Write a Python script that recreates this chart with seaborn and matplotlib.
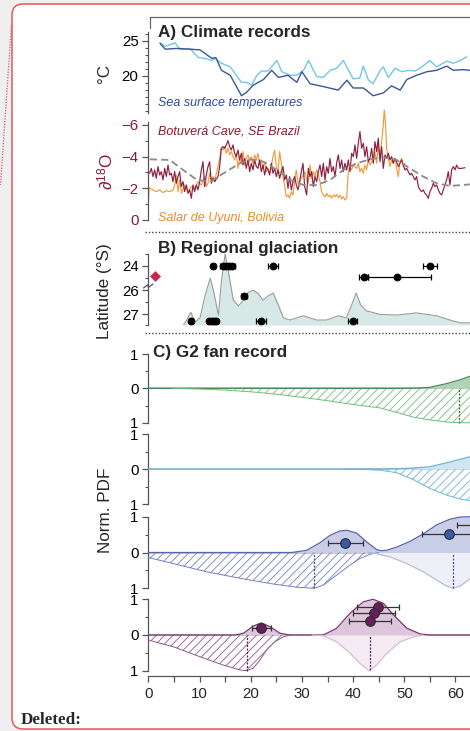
import numpy as np
import matplotlib
matplotlib.use("Agg")
import matplotlib.pyplot as plt
import seaborn as sns
from matplotlib.patches import FancyBboxPatch
from matplotlib.lines import Line2D
from matplotlib.transforms import IdentityTransform

# ------------------------------------------------------------------ data
# Panel A: sea surface temperatures (age ka, deg C)
sst_dark_age = [2.3, 3.3, 5.5, 8.1, 10.1, 12.4, 13.2, 14.3, 16.0, 18.2, 19.2, 20.5, 22.5, 24.1, 25.4,
                27.3, 29.0, 30.0, 31.6, 34.2, 37.1, 38.8, 40.0, 42.0, 43.9, 45.9, 47.5, 49.2, 50.5,
                52.4, 54.4, 56.3, 58.3, 59.6, 61.5, 62.8]
sst_dark = [24.6, 23.8, 23.9, 23.8, 23.7, 22.5, 22.6, 20.8, 20.1, 17.2, 17.7, 18.7, 19.5, 20.8, 19.8,
            20.1, 19.1, 20.6, 18.9, 18.5, 18.0, 19.4, 18.3, 18.3, 17.2, 17.6, 18.6, 18.0, 19.5,
            20.1, 20.6, 20.8, 21.4, 20.8, 20.9, 20.8]
sst_light_age = [2.3, 3.3, 5.2, 6.2, 8.1, 9.8, 11.1, 12.4, 13.0, 14.3, 16.0, 18.2, 19.2, 20.2, 21.2,
                 22.1, 23.4, 25.1, 26.1, 27.7, 29.0, 30.3, 31.3, 32.9, 34.2, 35.5, 36.8, 38.1, 40.0,
                 41.3, 42.0, 43.0, 43.9, 45.3, 45.9, 46.9, 48.2, 49.5, 50.8, 52.1, 53.1, 55.0, 56.3,
                 58.3, 59.6, 60.9, 62.2]
sst_light = [24.7, 24.2, 24.7, 23.8, 23.9, 22.6, 22.5, 22.2, 22.5, 21.8, 21.3, 19.1, 19.1, 18.7, 20.1,
             20.7, 20.7, 22.2, 20.6, 20.1, 20.1, 20.8, 22.2, 19.9, 19.8, 20.8, 21.1, 22.2, 19.6,
             19.7, 21.4, 19.4, 18.9, 20.8, 21.3, 19.8, 21.1, 20.6, 20.8, 20.7, 21.1, 22.2, 21.3,
             22.1, 21.8, 22.2, 22.7]

# Panel A: Botuvera cave d18O (age ka, permil)
botuvera = [(0.27, -2.95), (0.59, -3.26), (0.92, -2.74), (1.24, -3.16), (1.57, -2.63), (1.89, -3.37),
            (2.22, -2.84), (2.54, -3.05), (2.87, -2.53), (3.2, -3.26), (3.52, -2.74), (3.85, -3.47),
            (4.17, -2.84), (4.5, -2.95), (4.82, -2.42), (5.15, -3.05), (5.47, -2.32), (5.8, -2.74),
            (6.12, -3.05), (6.45, -2.11), (6.78, -2.42), (7.1, -1.79), (7.43, -2.21), (7.75, -1.68),
            (8.08, -1.9), (8.4, -1.37), (8.73, -2.21), (9.05, -1.79), (9.38, -2.21), (9.71, -1.9),
            (10.03, -2.42), (10.36, -3.16), (10.68, -3.68), (11.01, -2.11), (11.33, -2.84),
            (11.66, -3.37), (11.98, -3.68), (12.31, -2.32), (12.63, -2.63), (12.96, -2.42),
            (13.61, -2.74), (13.94, -3.37), (14.26, -4.53), (14.59, -4.63), (14.91, -4.53),
            (15.24, -4.74), (15.56, -5.01), (15.89, -4.63), (16.22, -4.42), (16.54, -4.74),
            (16.87, -4.21), (17.19, -4.0), (17.52, -4.42), (17.84, -3.79), (18.17, -4.21),
            (18.49, -3.47), (18.82, -3.89), (19.14, -3.26), (19.47, -3.79), (19.8, -3.05),
            (20.12, -3.58), (20.45, -3.16), (20.77, -3.79), (21.1, -3.37), (21.42, -3.26),
            (21.75, -3.79), (22.07, -3.05), (22.4, -3.47), (22.73, -2.84), (23.05, -3.37),
            (23.38, -3.16), (23.7, -2.84), (24.03, -3.58), (24.35, -2.95), (24.68, -3.26),
            (25.0, -2.74), (25.33, -3.16), (25.65, -2.63), (25.98, -3.05), (26.31, -3.37),
            (26.63, -2.53), (26.96, -2.84), (27.28, -2.0), (27.61, -2.74), (27.93, -1.9),
            (28.26, -2.42), (28.58, -2.74), (28.91, -2.21), (29.24, -1.9), (29.56, -2.42),
            (29.89, -3.05), (30.21, -3.58), (30.54, -2.11), (30.93, -1.58), (31.25, -3.26),
            (31.58, -2.74), (31.9, -3.05), (32.23, -2.11), (32.55, -2.74), (32.88, -2.42),
            (33.2, -3.05), (33.53, -3.47), (33.86, -2.74), (34.18, -3.58), (34.51, -2.53),
            (34.83, -3.37), (35.16, -2.95), (35.48, -3.89), (35.81, -3.05), (36.13, -3.37),
            (36.46, -2.74), (36.78, -3.58), (37.11, -4.11), (37.44, -3.26), (37.76, -3.79),
            (38.09, -3.05), (38.41, -3.58), (38.74, -3.16), (39.06, -3.79), (39.39, -3.05),
            (39.71, -4.21), (40.04, -4.0), (40.37, -4.74), (40.69, -3.89), (41.02, -4.84),
            (41.34, -5.58), (41.67, -4.53), (41.99, -4.84), (42.32, -4.0), (42.64, -4.63),
            (42.97, -3.68), (43.3, -3.89), (43.62, -4.53), (43.95, -3.58), (44.27, -4.95),
            (44.6, -4.32), (44.92, -5.16), (45.25, -3.68), (45.57, -4.63), (45.9, -3.26),
            (46.23, -4.11), (46.55, -3.89), (46.88, -4.21), (47.2, -3.79), (47.53, -4.0),
            (47.85, -3.58), (48.18, -3.89), (48.5, -3.68), (48.83, -3.37), (49.15, -3.58),
            (49.48, -3.79), (49.81, -3.47), (50.13, -3.16), (50.46, -3.26), (50.78, -3.05),
            (51.11, -2.84), (51.43, -2.95), (51.76, -2.74), (52.08, -2.53), (52.41, -2.74),
            (52.74, -2.11), (53.06, -1.9), (53.39, -1.79), (53.71, -1.9), (54.04, -1.68),
            (54.36, -1.58), (54.69, -1.37), (55.01, -1.79), (55.34, -2.0), (55.66, -2.32),
            (55.99, -2.11), (56.32, -2.21), (56.64, -1.9), (56.97, -1.68), (57.29, -1.58),
            (57.62, -1.9), (57.94, -2.21), (58.27, -2.53), (58.59, -3.05), (58.92, -2.21),
            (59.24, -3.16), (59.57, -3.37), (59.9, -3.16), (60.22, -3.47), (60.55, -3.26),
            (61.2, -3.26), (61.85, -3.3)]

# Panel A: Salar de Uyuni d18O
uyuni = [(0.05, -1.3), (0.15, -2.05), (0.27, -2.0), (0.92, -1.9), (1.57, -1.79), (2.22, -1.9),
         (2.87, -1.73), (3.52, -1.85), (4.17, -1.79), (4.82, -1.9), (5.15, -2.21), (5.47, -2.84),
         (5.8, -1.79), (6.12, -2.53), (6.45, -1.68), (7.1, -2.21), (7.75, -1.79), (8.4, -2.11),
         (9.05, -2.0), (9.71, -2.42), (10.36, -2.21), (11.01, -2.74), (11.33, -2.11), (11.66, -2.32),
         (11.98, -2.95), (12.31, -2.53), (12.63, -2.74), (12.96, -2.42), (13.29, -2.95),
         (13.61, -3.37), (13.94, -3.89), (14.26, -4.53), (14.59, -4.42), (14.91, -4.63),
         (15.24, -4.21), (15.56, -4.53), (15.89, -4.11), (16.22, -4.32), (16.54, -4.0),
         (16.87, -3.79), (17.19, -4.21), (17.52, -3.26), (17.84, -3.89), (18.17, -3.58),
         (18.49, -4.32), (18.82, -3.47), (19.14, -3.89), (19.47, -4.11), (19.8, -3.68),
         (20.12, -4.0), (20.45, -3.58), (20.77, -4.11), (21.1, -3.79), (21.42, -4.21),
         (21.75, -3.47), (22.07, -3.79), (22.4, -3.26), (22.73, -3.68), (23.05, -3.05),
         (23.38, -3.26), (23.7, -2.95), (24.03, -3.37), (24.35, -4.0), (24.68, -4.42),
         (25.0, -3.37), (25.33, -2.95), (25.65, -4.32), (25.98, -3.58), (26.31, -2.74),
         (26.63, -2.11), (26.96, -1.47), (27.28, -1.58), (27.61, -1.37), (27.93, -1.79),
         (28.26, -1.58), (28.58, -2.53), (28.91, -3.16), (29.24, -2.32), (29.56, -2.42),
         (30.6, -3.05), (30.93, -2.53), (31.25, -2.32), (31.58, -3.47), (31.9, -2.63),
         (32.23, -3.05), (32.55, -2.74), (32.88, -3.16), (33.2, -2.84), (33.53, -2.42),
         (33.86, -1.79), (34.18, -1.58), (34.51, -1.47), (34.83, -1.68), (35.16, -1.47),
         (35.48, -1.58), (35.81, -1.37), (36.13, -1.58), (36.46, -1.47), (36.78, -1.62),
         (37.11, -1.41), (37.44, -1.58), (37.76, -1.33), (38.09, -1.47), (38.41, -1.26),
         (38.74, -1.37), (39.06, -3.05), (39.39, -3.37), (39.71, -3.16), (40.04, -3.47),
         (40.37, -3.37), (40.69, -3.26), (41.02, -3.58), (41.34, -3.05), (41.67, -3.26),
         (41.99, -2.95), (42.32, -3.47), (42.64, -3.16), (42.97, -3.79), (43.3, -3.47),
         (43.62, -3.68), (43.95, -3.89), (44.27, -4.32), (44.6, -3.58), (44.92, -4.74),
         (45.25, -3.89), (45.57, -4.95), (45.9, -6.0), (46.09, -6.95), (46.36, -6.0),
         (46.55, -4.53), (46.88, -3.89), (47.2, -3.37), (47.53, -3.79), (47.85, -3.58),
         (48.18, -3.89), (48.5, -3.26), (48.83, -2.74), (49.15, -3.68), (49.48, -3.89),
         (49.81, -3.37), (50.13, -3.58)]

# Panel A: insolation-like reference curve (dashed)
insol_age = [0.3, 4.2, 6.8, 9.5, 12.1, 14.7, 17.9, 19.9, 22.5, 25.1, 27.7, 30.3, 32.9, 35.5, 38.1,
             40.7, 43.3, 45.9, 48.5, 51.1, 53.7, 56.3, 58.9, 61.5, 62.8]
insol = [-3.83, -3.79, -3.16, -2.53, -2.42, -2.95, -3.58, -3.83, -3.68, -3.16, -2.53, -2.21, -2.21,
         -2.53, -3.16, -3.58, -3.83, -3.96, -3.79, -3.26, -2.74, -2.32, -2.15, -2.21, -2.25]

# Panel B: glacial ages by latitude (age ka, latitude S, age error)
glac_age = [12.7, 14.6, 15.2, 15.8, 16.4, 24.3, 55.0, 42.1, 18.7, 8.3, 11.9, 12.4, 12.9, 13.3, 22.0, 39.9]
glac_lat = [24.0, 24.0, 24.0, 24.0, 24.0, 24.0, 24.0, 24.9, 26.25, 27.29, 27.29, 27.29, 27.29, 27.29, 27.29, 27.29]
glac_err = [0.3, 0.5, 0.5, 0.5, 0.5, 1.0, 1.4, 0.9, 0.5, 0.4, 0.4, 0.4, 0.4, 0.4, 1.0, 0.8]
glac_wide_age = [48.5]
glac_wide_lat = [24.9]
glac_wide_err_lo = [5.5]
glac_wide_err_hi = [6.8]
diamond_age = [1.3]
diamond_lat = [24.85]
# Panel B: summed probability curve (age ka, relative density)
kde_age = [6.85, 7.5, 8.3, 9.1, 10.1, 11.1, 12.1, 12.8, 13.7, 14.3, 15.0, 15.6, 16.6, 17.6, 18.6,
           19.5, 20.5, 21.5, 22.4, 23.4, 24.4, 25.4, 26.4, 27.7, 30.3, 32.9, 34.8, 37.1, 38.7,
           39.7, 40.6, 41.5, 42.6, 45.2, 48.5, 52.4, 56.3, 58.9, 60.9, 62.8]
kde_val = [0.0, 0.07, 0.18, 0.04, 0.10, 0.42, 0.66, 0.46, 0.14, 0.63, 1.0, 0.77, 0.35, 0.27, 0.35,
           0.46, 0.49, 0.44, 0.35, 0.41, 0.45, 0.28, 0.10, 0.07, 0.13, 0.07, 0.07, 0.13, 0.10,
           0.28, 0.45, 0.28, 0.20, 0.15, 0.14, 0.17, 0.13, 0.07, 0.03, 0.03]

# Panel C: G2 fan record sub-panels (upper PDF, lower hatched, lower light)
c1_top = [(0, 0), (50, 0), (53, 0.01), (55, 0.03), (58.3, 0.14), (60.9, 0.25), (62.8, 0.35)]
c1_hat = [(4.8, 0), (10, -0.02), (15, -0.05), (20, -0.1), (25, -0.17), (30, -0.26), (35, -0.36),
          (40, -0.47), (45.3, -0.57), (48.5, -0.70), (51.8, -0.84), (55, -0.92), (58.3, -0.98),
          (60.7, -1.0), (62.8, -1.0)]
c1_dash = [60.7]

c2_top = [(0, 0), (40, 0), (48, 0.01), (51.5, 0.03), (55, 0.07), (58.3, 0.18), (60.9, 0.28), (62.8, 0.35)]
c2_hat = [(38.5, 0), (42, -0.01), (45.3, -0.03), (48.5, -0.1), (51.8, -0.3), (55, -0.55),
          (58.3, -0.74), (60.9, -0.85), (62.8, -0.9)]

c3_top = [(0, 0), (28, 0), (30.9, 0.06), (33.5, 0.27), (35.5, 0.48), (37.4, 0.6), (38.8, 0.62),
          (40.7, 0.54), (42.7, 0.29), (44.6, 0.08), (45.5, 0.05), (46.5, 0.06), (48.5, 0.15),
          (51.1, 0.31), (53.7, 0.52), (56.3, 0.77), (58.9, 0.93), (60.9, 0.99), (62.8, 1.0)]
c3_hat = [(0, -0.14), (4.9, -0.31), (11.4, -0.54), (17.9, -0.72), (24.4, -0.88), (29.0, -0.97),
          (32.4, -1.0), (34.2, -0.91), (36.8, -0.63), (39.4, -0.35), (41.3, -0.17), (43.3, -0.05),
          (45, 0)]
c3_light = [(43, 0), (44, -0.02), (47.2, -0.12), (50.5, -0.31), (53.7, -0.54), (56.3, -0.77),
            (58.3, -0.94), (59.5, -1.0), (60.9, -0.94), (62.2, -0.8), (62.8, -0.74)]
c3_dash = [32.4, 59.5]
c3_pt_age = [38.5, 58.7, 64.5]
c3_pt_val = [0.27, 0.51, 0.76]
c3_pt_err = [3.5, 5.2, 4.3]

c4_top = [(0, 0), (17, 0), (18.6, 0.05), (20.5, 0.25), (22.1, 0.34), (23.8, 0.23), (25.7, 0.05),
          (27.7, 0), (34.2, 0), (36.8, 0.19), (39.4, 0.61), (42.0, 0.93), (43.9, 1.0), (45.9, 0.89),
          (47.9, 0.56), (50.5, 0.19), (53.1, 0.03), (55, 0), (62.8, 0)]
c4_hat = [(0, -0.14), (4.9, -0.33), (10.1, -0.61), (14.6, -0.84), (17.9, -0.98), (19.2, -1.0),
          (20.5, -0.93), (21.8, -0.7), (23.1, -0.42), (24.7, -0.19), (26.4, -0.05), (27.7, 0)]
c4_light = [(32, 0), (34.2, -0.02), (36.8, -0.19), (39.4, -0.51), (41.3, -0.79), (43.1, -1.0),
            (44.6, -0.84), (46.6, -0.51), (49.2, -0.19), (51.8, -0.05), (53.7, 0)]
c4_dash = [19.2, 43.3]
c4_pt_age = [22.1, 44.9, 44.1, 43.3]
c4_pt_val = [0.2, 0.79, 0.61, 0.4]
c4_pt_err = [1.9, 4.1, 4.1, 4.1]

x_ticks = [0, 10, 20, 30, 40, 50, 60]

# ------------------------------------------------------------------ style
sns.set_theme(style="ticks")
plt.rcParams["font.family"] = ["Liberation Sans", "DejaVu Sans"]
plt.rcParams["mathtext.fontset"] = "custom"
plt.rcParams["mathtext.rm"] = "Liberation Sans"
plt.rcParams["mathtext.it"] = "Liberation Sans:italic"
plt.rcParams["hatch.linewidth"] = 0.6
plt.rcParams["axes.unicode_minus"] = True

W, H = 470, 731
fig = plt.figure(figsize=(W / 100, H / 100), dpi=100)
fig.patch.set_facecolor("#efefef")

def px_rect(x0, y0, x1, y1):
    return [x0 / W, 1 - y1 / H, (x1 - x0) / W, (y1 - y0) / H]

def fx(x):
    return x / W

def fy(y):
    return 1 - y / H

# page panel
panel = FancyBboxPatch((12, 2), 520, H - 6, boxstyle="round,pad=0,rounding_size=11",
                       transform=IdentityTransform(), facecolor="white", edgecolor="#e0575c",
                       linewidth=1.1, zorder=-10)
fig.patches.append(panel)
fig.add_artist(Line2D([fx(11.5), fx(0.5)], [fy(25), fy(185)], color="#e0575c", lw=0.9,
                      linestyle=(0, (1, 1.2)), zorder=-5))

XL, XR, KA = 148.3, 470.0, 5.12
XMAX = (XR - XL) / KA
GREY = "#555555"
TICKFS = 10.8

def style_left(ax, bounds, labelcolor="black"):
    for s in ["top", "right", "bottom"]:
        ax.spines[s].set_visible(False)
    ax.spines["left"].set_color(GREY)
    ax.spines["left"].set_linewidth(0.9)
    ax.spines["left"].set_bounds(*bounds)
    ax.tick_params(axis="y", which="major", length=4.5, width=0.9, color=GREY, pad=2.5,
                   labelsize=TICKFS, labelcolor=labelcolor)
    ax.tick_params(axis="y", which="minor", length=2.5, width=0.8, color=GREY)
    ax.tick_params(axis="x", which="both", bottom=False, labelbottom=False)
    ax.set_xlim(0, XMAX)
    ax.patch.set_visible(False)
    ax.set_xlabel("")
    ax.set_ylabel("")

# ------------------------------------------------------------------ Panel A
fig.add_artist(Line2D([fx(150), fx(470)], [fy(17), fy(17)], color="#666666", lw=0.9))
fig.add_artist(Line2D([fx(150), fx(150)], [fy(17), fy(28)], color="#666666", lw=0.9))

axT = fig.add_axes(px_rect(XL, 28, XR, 116))
sns.lineplot(x=sst_light_age, y=sst_light, ax=axT, color="#74c6e8", lw=1.0, estimator=None, sort=False)
sns.lineplot(x=sst_dark_age, y=sst_dark, ax=axT, color="#3d5598", lw=1.0, estimator=None, sort=False)
axT.set_ylim(14.33, 26.8)
style_left(axT, (14.75, 26.2))
axT.set_yticks([20, 25])
axT.set_yticks(list(range(15, 27)), minor=True)

axD = fig.add_axes(px_rect(XL, 105, XR, 226))
b_age, b_val = zip(*botuvera)
u_age, u_val = zip(*uyuni)
sns.lineplot(x=list(u_age), y=list(u_val), ax=axD, color="#f39a3c", lw=0.85, estimator=None, sort=False)
sns.lineplot(x=list(b_age), y=list(b_val), ax=axD, color="#8e1f40", lw=0.85, estimator=None, sort=False)
sns.lineplot(x=insol_age, y=insol, ax=axD, color="#8a8a8a", lw=1.3, estimator=None, sort=False,
             linestyle=(0, (4, 2.2)))
axD.set_ylim(0.38, -7.26)
style_left(axD, (-6.2, 0), labelcolor="#8b1a2e")
axD.set_yticks([0, -2, -4, -6])
axD.set_yticks([-1, -3, -5], minor=True)

fig.text(fx(158), fy(33), "A) Climate records", fontsize=12.3, fontweight="bold", va="center")
fig.text(fx(158), fy(103), "Sea surface temperatures", fontsize=9, style="italic",
         color="#2e4a9a", va="center")
fig.text(fx(158), fy(132), "Botuverá Cave, SE Brazil", fontsize=9, style="italic",
         color="#8b1a2e", va="center")
fig.text(fx(158), fy(218), "Salar de Uyuni, Bolivia", fontsize=9, style="italic",
         color="#f08a24", va="center")
fig.text(fx(104), fy(73), "°C", fontsize=12.3, rotation=90, ha="center", va="center")
fig.text(fx(106), fy(172), r"$\partial^{18}$O", fontsize=12.3, rotation=90, ha="center",
         va="center", color="#8b1a2e")

for yy in (232, 333):
    fig.add_artist(Line2D([fx(145), fx(470)], [fy(yy), fy(yy)], color="#444444", lw=1.0,
                          linestyle=(0, (1, 1.4))))

# ------------------------------------------------------------------ Panel B
axK = fig.add_axes(px_rect(XL, 250, XR, 325))
axK.fill_between(kde_age, 0, kde_val, color="#d6e9e6", lw=0)
sns.lineplot(x=kde_age, y=kde_val, ax=axK, color="#9c9c9c", lw=0.8, estimator=None, sort=False)
axK.set_xlim(0, XMAX)
axK.set_ylim(0, 75 / 71)
axK.axis("off")

def lat_fwd(v):
    v = np.asarray(v, dtype=float)
    return np.where(v <= 26, (v - 24) / 2.0, 1 + (v - 26))

def lat_inv(p):
    p = np.asarray(p, dtype=float)
    return np.where(p <= 1, 24 + 2.0 * p, 26 + (p - 1))

axB = fig.add_axes(px_rect(XL, 250, XR, 326))
axB.set_yscale("function", functions=(lat_fwd, lat_inv))
axB.errorbar(glac_age, glac_lat, xerr=glac_err, fmt="none", ecolor="black", elinewidth=0.9,
             capsize=2.5, capthick=0.9, zorder=3)
axB.errorbar(glac_wide_age, glac_wide_lat, xerr=[glac_wide_err_lo, glac_wide_err_hi], fmt="none",
             ecolor="black", elinewidth=0.9, capsize=2.5, capthick=0.9, zorder=3)
sns.scatterplot(x=glac_age + glac_wide_age, y=glac_lat + glac_wide_lat, ax=axB, color="black",
                s=26, edgecolor="black", linewidth=0.5, zorder=4)
sns.scatterplot(x=diamond_age, y=diamond_lat, ax=axB, marker="D", color="#c2274d", s=26,
                edgecolor="#c2274d", zorder=4)
axB.set_ylim(27.48, 22.71)
style_left(axB, (23.04, 27.44))
axB.set_yticks([24, 26, 27])
axB.set_yticklabels(["24", "26", "27"])
axB.set_yticks([23.04, 25, 26.5, 27.44], minor=True)
axB.yaxis.set_minor_formatter(plt.NullFormatter())
# axis break mark
fig.add_artist(Line2D([fx(143.5), fx(148.3), fx(148.3), fx(153)],
                      [fy(288), fy(284.5), fy(287.5), fy(284)], color=GREY, lw=0.9))
fig.text(fx(158), fy(248), "B) Regional glaciation", fontsize=12.3, fontweight="bold", va="center")
fig.text(fx(104), fy(291), "Latitude (°S)", fontsize=12.3, rotation=90, ha="center", va="center")

# ------------------------------------------------------------------ Panel C
sub_tops = [354, 434, 516.7, 599.3]
sub_bots = [422.7, 504.3, 588.3, 670.7]
specs = [
    dict(top=c1_top, hat=c1_hat, light=None, dash=c1_dash, pts=None,
         fill="#b2d2b7", edge="#4a8a58", hatch="#72bd7a", lfill=None, ledge=None, dcol="#2f7a40",
         pcol=None),
    dict(top=c2_top, hat=c2_hat, light=None, dash=[], pts=None,
         fill="#cfe5f1", edge="#6eb2d9", hatch="#6eb2d9", lfill=None, ledge=None, dcol="#3a7fb0",
         pcol=None),
    dict(top=c3_top, hat=c3_hat, light=c3_light, dash=c3_dash, pts=(c3_pt_age, c3_pt_val, c3_pt_err),
         fill="#c9cde7", edge="#5567ad", hatch="#7480c2", lfill="#eeeff7", ledge="#b8bddf",
         dcol="#3f4fa3", pcol="#3d5aa8"),
    dict(top=c4_top, hat=c4_hat, light=c4_light, dash=c4_dash, pts=(c4_pt_age, c4_pt_val, c4_pt_err),
         fill="#ddc5db", edge="#7a3874", hatch="#8c5a88", lfill="#f5ebf4", ledge="#d8bcd4",
         dcol="#5a1f52", pcol="#6b1d5b"),
]
MARG = 4
for i, sp in enumerate(specs):
    t, b = sub_tops[i], sub_bots[i]
    half = (b - t) / 2
    ax = fig.add_axes(px_rect(XL, t - MARG, XR, b + MARG))
    m = MARG / half
    ax.set_ylim(-1 - m, 1 + m)
    ax.axhline(0, color="#c4c4c4", lw=1.3, zorder=1)
    ta, tv = zip(*sp["top"])
    ax.fill_between(ta, 0, tv, color=sp["fill"], lw=0, zorder=2)
    ax.plot(ta, tv, color=sp["edge"], lw=0.9, zorder=3)
    ha_, hv = zip(*sp["hat"])
    ax.fill_between(ha_, 0, hv, facecolor="none", edgecolor=sp["hatch"], hatch="////", lw=0, zorder=2)
    ax.plot(ha_, hv, color=sp["hatch"], lw=0.7, zorder=3)
    if sp["light"] is not None:
        la, lv = zip(*sp["light"])
        ax.fill_between(la, 0, lv, color=sp["lfill"], lw=0, zorder=2)
        ax.plot(la, lv, color=sp["ledge"], lw=0.9, zorder=3)
    for d in sp["dash"]:
        src = sp["light"] if (sp["light"] is not None and d > 40) else sp["hat"]
        sa, sv = zip(*src)
        ax.vlines(d, np.interp(d, sa, sv), 0, colors=sp["dcol"], lw=0.9,
                  linestyles=(0, (1.6, 1.2)), zorder=4)
    if sp["pts"] is not None:
        pa, pv, pe = sp["pts"]
        ax.errorbar(pa, pv, xerr=pe, fmt="none", ecolor="#333333", elinewidth=0.9, capsize=2.5,
                    capthick=0.9, zorder=5)
        sns.scatterplot(x=pa, y=pv, ax=ax, color=sp["pcol"], s=48, edgecolor="#2a2a2a",
                        linewidth=0.8, zorder=6)
    style_left(ax, (-1, 1))
    ax.set_yticks([-1, 0, 1])
    ax.set_yticklabels(["1", "0", "1"])
    ax.set_yticks([-0.5, 0.5], minor=True)
    if i == 3:
        ax.spines["bottom"].set_visible(True)
        ax.spines["bottom"].set_color(GREY)
        ax.spines["bottom"].set_linewidth(0.9)
        ax.spines["bottom"].set_position(("outward", 1.0))
        ax.spines["bottom"].set_bounds(0, XMAX)
        ax.set_xticks(x_ticks)
        ax.set_xticklabels([str(v) for v in x_ticks])
        ax.set_xticks(list(range(5, 63, 10)), minor=True)
        ax.tick_params(axis="x", which="major", bottom=True, labelbottom=True, length=4.5,
                       width=0.9, color=GREY, labelsize=TICKFS, pad=3)
        ax.tick_params(axis="x", which="minor", bottom=True, length=4.5, width=0.9, color=GREY)

fig.text(fx(153), fy(353), "C) G2 fan record", fontsize=12.3, fontweight="bold", va="center")
fig.text(fx(106), fy(510), "Norm. PDF", fontsize=12.3, rotation=90, ha="center", va="center")

fig.text(fx(21), fy(720), "Deleted:", fontsize=12.3, fontweight="bold", va="center",
         family=["Liberation Serif", "DejaVu Serif"])

fig.savefig("out.png", dpi=100, facecolor=fig.get_facecolor())
